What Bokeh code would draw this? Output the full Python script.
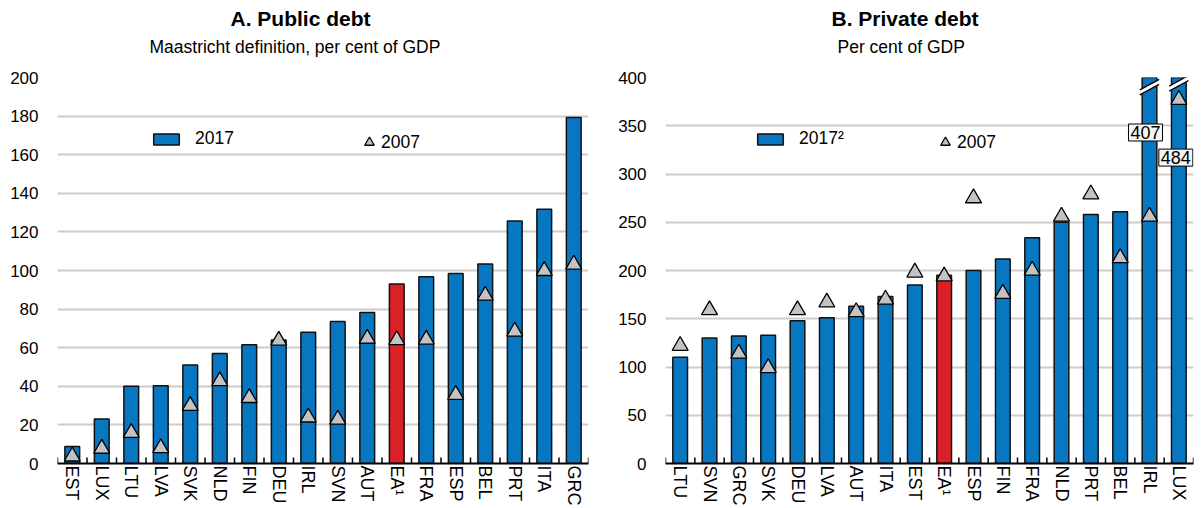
from bokeh.plotting import figure
from bokeh.layouts import row
from bokeh.models import (Range1d, FactorRange, ColumnDataSource, Legend, LegendItem,
                          Title, FixedTicker)
from bokeh.transform import dodge
from bokeh.core.properties import value
from bokeh.embed import file_html
from bokeh.resources import INLINE

# ---------------- data ----------------
cats_a = ["EST", "LUX", "LTU", "LVA", "SVK", "NLD", "FIN", "DEU", "IRL", "SVN",
          "AUT", "EA¹", "FRA", "ESP", "BEL", "PRT", "ITA", "GRC"]
public_2017 = [8.8, 23.0, 40.0, 40.3, 51.0, 57.0, 61.5, 64.0, 68.0, 73.6,
               78.2, 93.0, 96.7, 98.4, 103.4, 125.7, 131.8, 179.3]
public_2007 = [3.7, 7.7, 15.9, 8.0, 29.9, 42.7, 34.0, 63.7, 23.9, 22.8,
               64.7, 64.0, 64.2, 35.6, 87.0, 68.4, 99.8, 103.1]

cats_b = ["LTU", "SVN", "GRC", "SVK", "DEU", "LVA", "AUT", "ITA", "EST", "EA¹",
          "ESP", "FIN", "FRA", "NLD", "PRT", "BEL", "IRL", "LUX"]
private_2017 = [110, 130, 132, 133, 148, 151, 163, 173, 185, 195,
                200, 212, 234, 250, 258, 261, 407, 484]
private_2007 = [122, 159, 114, 99, 159, 167, 157, 170, 198, 194,
                275, 176, 200, 256, 279, 213, 256, 377]

ticks_a = list(range(0, 201, 20))
ticks_b = list(range(0, 401, 50))

BLUE = "#0877c1"
RED = "#da2128"
GREY_TRI = "#c3c3c3"
GRID = "#cccccc"
FONT = "Liberation Sans"


def panel(cats, v17, v07, ymax, ticks, main, sub, leg17, width, bl, br, tick_h,
          main_off, sub_off, leg_x, leg_y, tri_leg_x):
    colors = [RED if c.startswith("EA") else BLUE for c in cats]
    src = ColumnDataSource(dict(cat=cats, v17=v17, v07=v07, color=colors))
    p = figure(x_range=FactorRange(*cats), y_range=Range1d(0, ymax),
               width=width, height=508, output_backend="svg",
               toolbar_location=None, min_border_left=bl, min_border_right=br,
               min_border_top=77, min_border_bottom=10)
    p.outline_line_color = None
    p.background_fill_color = "white"
    p.border_fill_color = "white"

    # titles: spacer between frame and subtitle, then subtitle, then main title
    p.add_layout(Title(text=" ", text_font=FONT, text_font_size="12px",
                       standoff=0), "above")
    p.add_layout(Title(text=sub, align="left", text_font=FONT,
                       text_font_size="17.5px", text_font_style="normal",
                       text_color="black", offset=sub_off, standoff=10), "above")
    p.add_layout(Title(text=main, align="left", text_font=FONT,
                       text_font_size="21px", text_font_style="bold",
                       text_color="black", offset=main_off, standoff=0), "above")

    bars = p.vbar(x="cat", top="v17", width=0.5, source=src, fill_color="color",
                  line_color="#111111", line_width=1.5)
    tri = p.scatter(x="cat", y="v07", source=src, marker="triangle", size=16,
                    fill_color=GREY_TRI, line_color="black", line_width=1.3)

    # category boundary ticks
    p.segment(x0=dodge("cat", -0.5, range=p.x_range), y0=0,
              x1=dodge("cat", -0.5, range=p.x_range), y1=tick_h,
              source=src, line_color="black", line_width=1.5)
    last = ColumnDataSource(dict(cat=[cats[-1]]))
    p.segment(x0=dodge("cat", 0.5, range=p.x_range), y0=0,
              x1=dodge("cat", 0.5, range=p.x_range), y1=tick_h,
              source=last, line_color="black", line_width=1.5)

    # axes
    p.xgrid.grid_line_color = None
    p.ygrid.grid_line_color = GRID
    p.ygrid.grid_line_width = 2
    p.yaxis.ticker = FixedTicker(ticks=ticks)
    p.yaxis.axis_line_color = None
    p.yaxis.major_tick_line_color = None
    p.yaxis.minor_tick_line_color = None
    p.yaxis.major_tick_out = 0
    p.yaxis.major_tick_in = 0
    p.yaxis.major_label_standoff = 19
    p.yaxis.major_label_text_font = FONT
    p.yaxis.major_label_text_font_size = "17px"
    p.yaxis.major_label_text_color = "black"

    p.xaxis.axis_line_color = "black"
    p.xaxis.axis_line_width = 2
    p.xaxis.major_tick_line_color = None
    p.xaxis.minor_tick_line_color = None
    p.xaxis.major_tick_out = 0
    p.xaxis.major_tick_in = 0
    p.xaxis.major_label_orientation = "vertical"
    p.xaxis.major_label_standoff = 2
    p.xaxis.major_label_text_font = FONT
    p.xaxis.major_label_text_font_size = "18px"
    p.xaxis.major_label_text_color = "black"

    # legends
    lg1 = Legend(items=[LegendItem(label=leg17, renderers=[bars], index=1)],
                 location=(leg_x, leg_y), orientation="horizontal",
                 glyph_width=32, glyph_height=14, label_standoff=13, padding=0,
                 margin=0, border_line_color=None, background_fill_alpha=0,
                 label_text_font=FONT, label_text_font_size="17.5px",
                 label_text_color="black", label_height=14)
    lg2 = Legend(items=[LegendItem(label="2007", renderers=[tri])],
                 location=(tri_leg_x, leg_y - 5), orientation="horizontal",
                 glyph_width=24, glyph_height=24, label_standoff=0, padding=0,
                 margin=0, border_line_color=None, background_fill_alpha=0,
                 label_text_font=FONT, label_text_font_size="17.5px",
                 label_text_color="black", label_height=14)
    p.add_layout(lg1, "center")
    p.add_layout(lg2, "center")
    return p


p1 = panel(cats_a, public_2017, public_2007, 200, ticks_a, "A. Public debt",
           "Maastricht definition, per cent of GDP", "2017", 608, 57, 20, 3.1,
           173, 92, 93, 314, 300)
p2 = panel(cats_b, private_2017, private_2007, 400, ticks_b, "B. Private debt",
           "Per cent of GDP", "2017²", 595, 57, 10, 6.2,
           166, 172, 89, 314, 268)

# broken bars (IRL, LUX) in panel B: break marks and value boxes
broken = [c for c, v in zip(cats_b, private_2017) if v > 400]
broken_vals = [v for v in private_2017 if v > 400]
for dy, col, lw in [(0, "white", 5), (2.6, "black", 1.3), (-2.6, "black", 1.3)]:
    brk_src = ColumnDataSource(dict(cat=broken, y=[390 + dy, 394 + dy]))
    p2.scatter(x="cat", y="y", source=brk_src, marker="dash", size=22,
               angle=0.5, line_color=col, line_width=lw)
lab = ColumnDataSource(dict(cat=broken, y=[343, 317], dx=[-4, -3],
                            txt=[str(v) for v in broken_vals]))
p2.text(x="cat", y="y", x_offset="dx", text="txt", source=lab,
        text_align="center", text_baseline="middle", text_font=value(FONT),
        text_font_size="18px", text_color="black",
        background_fill_color="#f4f4f4", border_line_color="black",
        border_line_width=1, padding=2)

layout = row(p1, p2)
open("out.html", "w").write(file_html(layout, INLINE))
